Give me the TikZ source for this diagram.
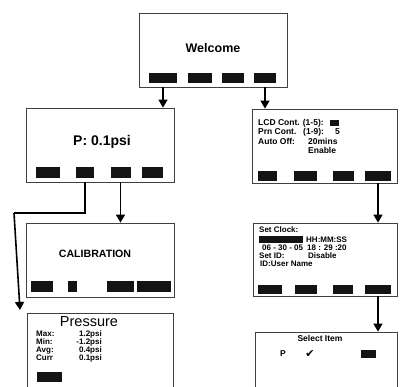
\documentclass[tikz,border=0pt]{standalone}
\usepackage{fontspec}
\setmainfont{Liberation Sans}
\newfontfamily\symfont{DejaVu Sans}
\usetikzlibrary{arrows.meta}
\tikzset{
  screen/.style={draw=black!75, line width=0.8pt, inner sep=0pt},
  btn/.style={fill=black!92, draw=none, inner sep=0pt},
  conn/.style={draw=black, line width=1.6pt},
  arr/.style={conn, -{Triangle[length=8pt,width=9pt]}},
  txt/.style={inner sep=0pt, font=\bfseries\fontsize{8.5}{8.5}\selectfont},
  clk/.style={inner sep=0pt, font=\bfseries\fontsize{8}{8}\selectfont},
  small/.style={inner sep=0pt, font=\bfseries\fontsize{8}{8}\selectfont},
}
\newcommand{\btnat}[5]{\node[btn, minimum width=#4pt, minimum height=#5pt] (#1) at (#2,#3) {};}
\begin{document}
\begin{tikzpicture}[x=1pt,y=-1pt]
\useasboundingbox (0,0) rectangle (400,387);
\clip (0,0) rectangle (400,387);
% screens
\node[screen, minimum width=148pt, minimum height=74pt] (W) at (213,50) {};
\node[screen, minimum width=148pt, minimum height=74pt] (P) at (100,145) {};
\node[screen, minimum width=145pt, minimum height=74pt] (L) at (324.5,146) {};
\node[screen, minimum width=148pt, minimum height=74pt] (C) at (100,260) {};
\node[screen, minimum width=144pt, minimum height=73pt] (S) at (325,259.5) {};
\node[screen, minimum width=146pt, minimum height=80pt] (R) at (100,353) {};
\node[screen, minimum width=142pt, minimum height=80pt] (T) at (326,372) {};
% buttons
\btnat{wb1}{163}{78}{28}{10}
\btnat{wb2}{200}{78}{24}{10}
\btnat{wb3}{233}{78}{22}{10}
\btnat{wb4}{265}{78}{22}{10}
\btnat{pb1}{48}{172.5}{24}{11}
\btnat{pb2}{85}{172.5}{18}{11}
\btnat{pb3}{120.5}{172.5}{20}{11}
\btnat{pb4}{152.5}{172.5}{21}{11}
\btnat{lb1}{267.5}{176}{19}{10}
\btnat{lb2}{305.5}{176}{23}{10}
\btnat{lb3}{343.5}{176}{21}{10}
\btnat{lb4}{378}{176}{26}{10}
\btnat{cb1}{42}{286.5}{22}{11}
\btnat{cb2}{72.5}{286.5}{9}{11}
\btnat{cb3}{120.5}{286.5}{27}{11}
\btnat{cb4}{154}{286.5}{34}{11}
\btnat{sb1}{270}{289.5}{24}{9}
\btnat{sb2}{306}{289.5}{22}{9}
\btnat{sb3}{343}{289.5}{20}{9}
\btnat{sb4}{378}{289.5}{26}{9}
\btnat{rb1}{49.5}{377}{25}{10}
\btnat{tb1}{368.5}{354}{15}{8}
\btnat{lsq}{334.5}{123}{9}{6}
\btnat{sbar}{281}{239.5}{44}{7}
% texts
\node[inner sep=0pt, anchor=base, font=\bfseries\fontsize{12.5}{12.5}\selectfont] (wt) at (213,53) {Welcome};
\node[inner sep=0pt, anchor=base, font=\bfseries\fontsize{14}{14}\selectfont] (pt) at (102,145.5) {P: 0.1psi};
\node[inner sep=0pt, anchor=base, font=\bfseries\fontsize{10.6}{10.6}\selectfont] (ct) at (95,258) {CALIBRATION};
\node[inner sep=0pt, anchor=base, font=\fontsize{14.5}{14.5}\selectfont] (rt) at (89,326.5) {Pressure};
% LCD settings
\node[txt, anchor=base west] (l1) at (258,126) {LCD Cont. (1-5):};
\node[txt, anchor=base west] (l2) at (258,135) {Prn Cont.};
\node[txt, anchor=base west] (l2b) at (303,135) {(1-9):};
\node[txt, anchor=base west] (l2c) at (335,135) {5};
\node[txt, anchor=base west] (l3) at (258,144.5) {Auto Off:};
\node[txt, anchor=base west] (l3b) at (308,144.5) {20mins};
\node[txt, anchor=base west] (l4) at (308,153.5) {Enable};
% Set clock
\node[clk, anchor=base west] (s1) at (259,232.5) {Set Clock:};
\node[clk, anchor=base west] (s2) at (306,243) {HH:MM:SS};
\node[clk, anchor=base west] (s3) at (262,251) {06 - 30 - 05};
\node[clk, anchor=base west] (s3b) at (307,251) {18 : 29 :20};
\node[clk, anchor=base west] (s4) at (259,258.5) {Set ID:};
\node[clk, anchor=base west] (s4b) at (308,258.5) {Disable};
\node[clk, anchor=base west] (s5) at (260,267) {ID:User Name};
% Pressure
\node[small, anchor=base west] (m1) at (36,336.5) {Max:};
\node[small, anchor=base west] (m2) at (36,344.5) {Min:};
\node[small, anchor=base west] (m3) at (36,352.5) {Avg:};
\node[small, anchor=base west] (m4) at (36,360.5) {Curr};
\node[small, anchor=base east] (v1) at (102,336.5) {1.2psi};
\node[small, anchor=base east] (v2) at (102,344.5) {-1.2psi};
\node[small, anchor=base east] (v3) at (102,352.5) {0.4psi};
\node[small, anchor=base east] (v4) at (102,360.5) {0.1psi};
% Select item
\node[txt, anchor=base] (t1) at (320,341.5) {Select Item};
\node[txt, anchor=base] (t2) at (283,357) {P};
\node[inner sep=0pt, anchor=base, font=\symfont\fontsize{11}{11}\selectfont] (t3) at (310,358) {✔};
% connectors
\draw[arr] (wb1 |- W.south) -- (wb1 |- P.north);
\draw[arr] (wb4 |- W.south) -- (wb4 |- L.north);
\draw[arr] (pb3 |- P.south) -- (pb3 |- C.north);
\coordinate (k1) at (85,213);
\coordinate (k2) at (14,213);
\coordinate (k3) at (20,310);
\draw[conn, line join=miter] (pb2 |- P.south) -- (k1) -- (k2);
\draw[arr] (k2) -- (k3);
\draw[arr] (lb4 |- L.south) -- (lb4 |- S.north);
\draw[arr] (sb4 |- S.south) -- (sb4 |- T.north);
\end{tikzpicture}
\end{document}
